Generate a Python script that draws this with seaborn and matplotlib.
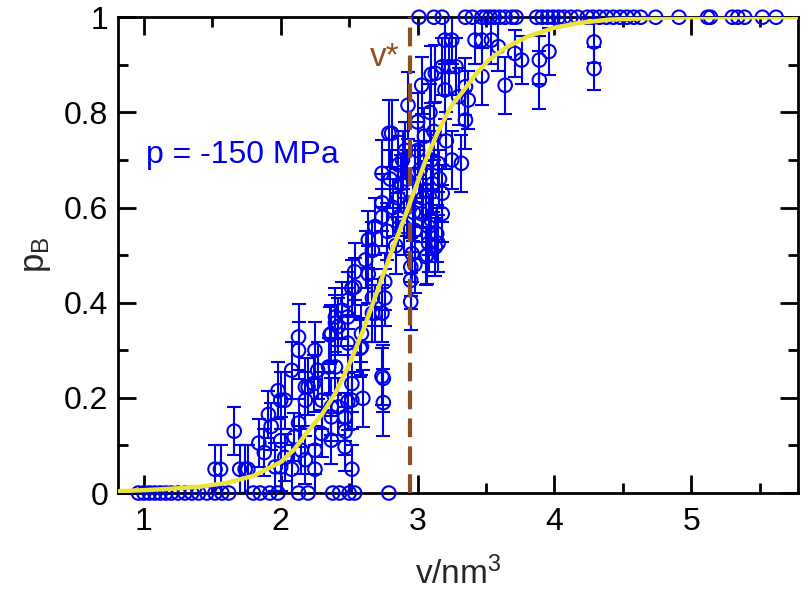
import numpy as np
import pandas as pd
import matplotlib
matplotlib.use("Agg")
import matplotlib.pyplot as plt
import seaborn as sns

# committor data
zero_v = [0.96, 1.00, 1.04, 1.08, 1.12, 1.16, 1.20, 1.25, 1.30, 1.35, 1.40, 1.46, 1.52,
          1.57, 1.62, 1.80, 1.85, 1.92, 1.98, 2.13, 2.20, 2.38, 2.43, 2.50, 2.54, 2.79]
one_v = [3.01, 3.12, 3.18, 3.35, 3.40, 3.47, 3.50, 3.53, 3.56, 3.60, 3.64, 3.69, 3.72,
         3.87, 3.91, 3.95, 3.99, 4.03, 4.07, 4.12, 4.17, 4.24, 4.28, 4.33, 4.38, 4.43,
         4.48, 4.53, 4.58, 4.63, 4.74, 4.91, 5.12, 5.14, 5.30, 5.34, 5.39, 5.52, 5.62]

mid_v = [1.52, 1.56, 1.66, 1.70, 1.74, 1.76, 1.84, 1.88, 1.91, 1.93, 1.96, 2.00, 1.98,
         2.00, 2.00, 2.03, 2.03, 2.08, 2.08, 2.10, 2.13, 2.13, 2.13, 2.15, 2.18, 2.18,
         2.18, 2.20, 2.24, 2.25, 2.25, 2.25, 2.27, 2.30, 2.30, 2.35, 2.36, 2.37, 2.37,
         2.37, 2.37, 2.40, 2.40, 2.40, 2.42, 2.42, 2.45, 2.47, 2.47, 2.47, 2.49, 2.49,
         2.49, 2.49, 2.52, 2.52, 2.52, 2.52, 2.54, 2.54, 2.58, 2.59, 2.59, 2.60, 2.62,
         2.64, 2.64, 2.67, 2.67, 2.67, 2.69, 2.69, 2.74, 2.74, 2.74, 2.74, 2.74, 2.75,
         2.75, 2.76, 2.76, 2.79, 2.81, 2.86, 2.86, 2.86, 2.88, 2.91, 2.93, 2.95, 2.95,
         2.95, 2.96, 2.98, 2.98, 2.98, 3.03, 3.03, 3.06, 3.06, 3.07, 3.08, 3.08, 3.10,
         3.13, 3.13, 3.14, 3.15, 3.15, 3.18, 3.18, 3.18, 3.20, 3.20, 3.23, 3.25, 3.25,
         3.28, 3.30, 3.32, 3.35, 3.35, 3.37, 3.42, 3.47, 3.47, 3.54, 3.59, 3.64, 3.71,
         3.76, 3.89, 3.89, 3.96, 4.29, 4.29,
         2.78, 2.82, 2.80, 2.84, 2.90, 2.92, 2.92, 2.89, 3.00, 3.05, 3.10, 3.00, 3.09,
         3.12, 3.10, 3.04, 3.11, 3.16, 3.21, 3.02, 2.97]
mid_p = [0.05, 0.05, 0.13, 0.05, 0.05, 0.05, 0.105, 0.085, 0.165, 0.14, 0.055, 0.195, 0.215,
         0.11, 0.055, 0.195, 0.075, 0.258, 0.05, 0.118, 0.328, 0.30, 0.147, 0.09, 0.07, 0.195,
         0.223, 0.223, 0.23, 0.30, 0.09, 0.05, 0.258, 0.125, 0.195, 0.265, 0.332, 0.335, 0.16,
         0.181, 0.111, 0.265, 0.357, 0.37, 0.35, 0.181, 0.384, 0.097, 0.13, 0.16, 0.315, 0.405,
         0.37, 0.192, 0.43, 0.23, 0.195, 0.05, 0.465, 0.433, 0.304, 0.335, 0.307, 0.199, 0.49,
         0.532, 0.46, 0.51, 0.41, 0.378, 0.56, 0.378, 0.672, 0.61, 0.58, 0.378, 0.245, 0.241,
         0.19, 0.444, 0.41, 0.756, 0.756, 0.62, 0.69, 0.58, 0.65, 0.72, 0.815, 0.402, 0.447,
         0.475, 0.503, 0.48, 0.552, 0.67, 0.587, 0.857, 0.637, 0.497, 0.50, 0.56, 0.525, 0.574,
         0.517, 0.882, 0.545, 0.693, 0.525, 0.587, 0.63, 0.896, 0.952, 0.847, 0.896, 0.70, 0.952,
         0.896, 0.833, 0.693, 0.854, 0.784, 0.826, 0.952, 0.952, 0.876, 0.952, 0.938, 0.857, 0.924,
         0.91, 0.91, 0.868, 0.928, 0.948, 0.892,
         0.55, 0.60, 0.66, 0.52, 0.56, 0.60, 0.66, 0.70, 0.72, 0.75, 0.70, 0.78, 0.80,
         0.76, 0.88, 0.62, 0.65, 0.66, 0.74, 0.68, 0.59]
mid_err = [0.05, 0.05, 0.05, 0.05, 0.05, 0.05, 0.05, 0.05, 0.05, 0.05, 0.05, 0.06, 0.06,
           0.05, 0.05, 0.06, 0.05, 0.06, 0.05, 0.05, 0.07, 0.06, 0.05, 0.05, 0.05, 0.06,
           0.06, 0.06, 0.06, 0.06, 0.05, 0.05, 0.06, 0.05, 0.06, 0.06, 0.06, 0.06, 0.05,
           0.06, 0.05, 0.06, 0.06, 0.06, 0.06, 0.06, 0.06, 0.05, 0.05, 0.05, 0.06, 0.06,
           0.06, 0.06, 0.06, 0.06, 0.06, 0.05, 0.06, 0.06, 0.06, 0.06, 0.06, 0.06, 0.06,
           0.06, 0.06, 0.06, 0.06, 0.06, 0.06, 0.06, 0.07, 0.06, 0.06, 0.06, 0.06, 0.07,
           0.07, 0.06, 0.06, 0.07, 0.07, 0.06, 0.06, 0.06, 0.06, 0.06, 0.07, 0.06, 0.06,
           0.06, 0.06, 0.06, 0.06, 0.06, 0.06, 0.06, 0.06, 0.06, 0.06, 0.06, 0.06, 0.06,
           0.06, 0.06, 0.06, 0.06, 0.06, 0.06, 0.06, 0.06, 0.05, 0.06, 0.06, 0.06, 0.05,
           0.06, 0.06, 0.06, 0.06, 0.06, 0.06, 0.05, 0.05, 0.06, 0.05, 0.05, 0.06, 0.05,
           0.05, 0.05, 0.06, 0.05, 0.045, 0.045,
           0.06, 0.06, 0.06, 0.06, 0.06, 0.06, 0.06, 0.06, 0.06, 0.06, 0.06, 0.06, 0.06,
           0.06, 0.06, 0.06, 0.06, 0.06, 0.06, 0.06, 0.06]

# fitted committor curve
fit_v = [0.82, 1.00, 1.20, 1.40, 1.60, 1.80, 2.00, 2.10, 2.20, 2.30, 2.40, 2.50, 2.60,
         2.70, 2.80, 2.90, 2.97, 3.06, 3.15, 3.25, 3.32, 3.42, 3.52, 3.65, 3.81, 4.00,
         4.18, 4.40, 4.70, 5.00, 5.40, 5.78]
fit_p = [0.004, 0.006, 0.009, 0.013, 0.021, 0.036, 0.065, 0.092, 0.13, 0.165, 0.21, 0.27,
         0.34, 0.42, 0.50, 0.575, 0.63, 0.70, 0.76, 0.815, 0.84, 0.878, 0.91, 0.937, 0.96,
         0.978, 0.988, 0.995, 0.998, 1.0, 1.0, 1.0]

v_star = 2.945

blue = "#0000f0"
brown = "#8c4f22"
yellow = "#ece33a"

sns.set_style("ticks")
plt.rcParams["font.family"] = ["Liberation Sans", "DejaVu Sans"]
plt.rcParams["mathtext.fontset"] = "custom"
plt.rcParams["mathtext.rm"] = "Liberation Sans"
plt.rcParams["mathtext.it"] = "Liberation Sans"

pts = pd.DataFrame({
    "v": mid_v + zero_v + one_v,
    "p": mid_p + [0.0] * len(zero_v) + [1.0] * len(one_v),
    "err": mid_err + [0.0] * len(zero_v) + [0.0] * len(one_v),
})
fit = pd.DataFrame({"v": fit_v, "p": fit_p})

fig = plt.figure(figsize=(8.02, 5.94), dpi=100)
ax = fig.add_axes([0.147, 0.170, 0.848, 0.801])

bars = pts[pts["err"] > 0]
ax.errorbar(bars["v"], bars["p"], yerr=bars["err"], fmt="none", ecolor=blue,
            elinewidth=1.5, capsize=4.8, capthick=1.5, zorder=2)
sns.scatterplot(data=pts, x="v", y="p", ax=ax, marker="o", s=95,
                facecolors="none", edgecolor=blue, linewidth=1.5, zorder=3)
for coll in ax.collections:
    coll.set_clip_on(False)

ax.plot([v_star, v_star], [0, 1], color=brown, lw=3, dashes=(4.5, 2.2), zorder=4)
sns.lineplot(data=fit, x="v", y="p", ax=ax, color=yellow, linewidth=3.2, zorder=5)

ax.text(2.76, 0.915, "v*", color=brown, fontsize=24, ha="center", va="center")
ax.text(1.015, 0.71, "p = -150 MPa", color=blue, fontsize=23, ha="left", va="center")

ax.set_xlim(0.81, 5.78)
ax.set_ylim(0, 1)
ax.set_xticks([1, 2, 3, 4, 5])
ax.set_xticklabels(["1", "2", "3", "4", "5"])
ax.set_xticks([1.5, 2.5, 3.5, 4.5, 5.5], minor=True)
ax.set_yticks([0, 0.2, 0.4, 0.6, 0.8, 1.0])
ax.set_yticklabels(["0", "0.2", "0.4", "0.6", "0.8", "1"])
ax.set_yticks([0.1, 0.3, 0.5, 0.7, 0.9], minor=True)
ax.tick_params(which="both", direction="in", top=True, right=True, width=2,
               labelsize=23, colors="black")
ax.tick_params(which="major", length=13)
ax.tick_params(which="minor", length=7)
ax.tick_params(axis="x", which="major", pad=10)
ax.tick_params(axis="y", which="major", pad=7)
for s in ax.spines.values():
    s.set_linewidth(2)
    s.set_color("black")

ax.set_xlabel("v/nm$^3$", fontsize=24, labelpad=14)
ax.set_ylabel("p$_\\mathrm{B}$", fontsize=25, labelpad=8)

fig.savefig("out.png", dpi=100)
